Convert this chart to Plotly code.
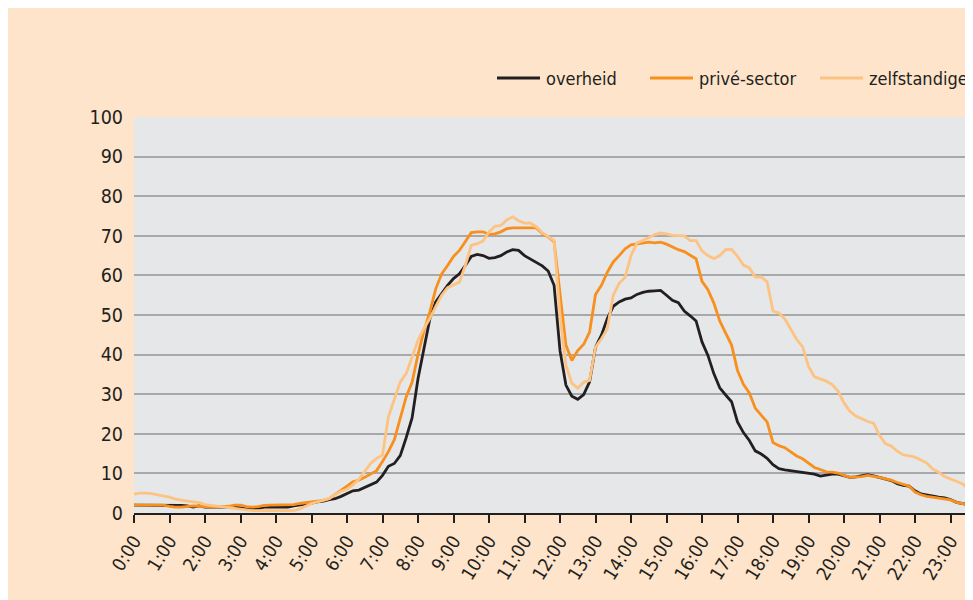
import plotly.graph_objects as go

# time of day, every 10 minutes (in hours)
time_minutes = list(range(0, 24 * 60, 10))
hours = [m / 60 for m in time_minutes]

tick_hours = list(range(0, 24))
tick_labels = [f"{h}:00" for h in tick_hours]

overheid = [
    2.0, 2.0, 2.0, 2.0, 2.0, 2.0,
    2.0, 2.0, 1.9, 1.8, 1.5, 1.8,
    1.5, 1.5, 1.5, 1.5, 1.5, 1.5,
    1.3, 1.2, 1.2, 1.2, 1.5, 1.5,
    1.5, 1.5, 1.5, 1.8, 2.0, 2.2,
    2.5, 2.8, 3.0, 3.4, 3.6, 4.2,
    4.8, 5.6, 5.8, 6.5, 7.0, 7.8,
    9.5, 11.8, 12.5, 14.5, 19.0, 24.0,
    33.9, 41.5, 49.0, 53.3, 55.4, 57.5,
    59.2, 60.4, 62.5, 64.8, 65.3, 65.0,
    64.3, 64.5, 65.0, 65.9, 66.5, 66.3,
    65.0, 64.1, 63.4, 62.4, 61.1, 57.5,
    41.0, 32.3, 29.5, 28.7, 29.9, 33.1,
    41.9, 44.9, 49.1, 52.2, 53.3, 54.0,
    54.3, 55.2, 55.7, 56.0, 56.1, 56.2,
    55.0, 53.7, 53.1, 51.0, 49.8, 48.5,
    43.2, 39.8, 35.2, 31.6, 29.8, 28.1,
    23.0, 20.3, 18.3, 15.7, 14.9, 13.8,
    12.2, 11.2, 10.9, 10.7, 10.5, 10.2,
    10.0, 9.8, 9.3, 9.5, 9.8, 9.8,
    9.4, 9.0, 9.1, 9.4, 9.7, 9.4,
    9.0, 8.6, 8.2, 7.4, 7.0, 6.8,
    5.6, 4.8, 4.5, 4.3, 4.0, 3.8,
    3.4, 2.7, 2.4, 2.1, 2.0, 2.0,
]

prive_sector = [
    2.0, 2.0, 2.0, 2.0, 2.0, 2.0,
    1.7, 1.5, 1.5, 1.6, 1.8, 1.7,
    1.6, 1.5, 1.5, 1.6, 1.7, 2.0,
    2.0, 1.6, 1.5, 1.6, 1.9, 2.0,
    2.0, 2.0, 2.0, 2.1, 2.4, 2.6,
    2.8, 3.0, 3.2, 3.6, 4.6, 5.8,
    6.8, 7.9, 8.3, 9.0, 9.8, 10.7,
    13.0, 15.5, 18.5, 24.0, 29.3, 33.0,
    40.0, 46.0, 50.8, 56.6, 60.4, 62.5,
    64.8, 66.3, 68.4, 70.8, 71.0, 71.0,
    70.3, 70.5, 71.0, 71.8, 72.0, 72.0,
    72.0, 72.0, 72.0, 70.6, 69.7, 68.5,
    55.5, 42.4, 38.5, 41.0, 42.6, 45.7,
    55.2, 57.5, 60.8, 63.4, 65.0, 66.7,
    67.7, 67.9, 68.2, 68.4, 68.2, 68.4,
    67.9, 67.1, 66.5, 66.0, 65.2, 64.2,
    58.5, 56.4, 53.0, 48.5, 45.4, 42.4,
    36.0, 32.5, 30.3, 26.5, 24.7, 23.0,
    17.8, 17.0, 16.5, 15.5, 14.4, 13.7,
    12.5, 11.5, 11.0, 10.4, 10.3, 10.1,
    9.5, 9.0, 9.1, 9.2, 9.5, 9.3,
    9.0, 8.6, 8.3, 7.7, 7.3, 6.8,
    5.3, 4.6, 4.2, 4.0, 3.8, 3.6,
    3.3, 2.7, 2.4, 2.1, 2.0, 2.0,
]

zelfstandige = [
    4.8, 5.0, 5.0, 4.9, 4.6, 4.3,
    4.0, 3.5, 3.2, 3.0, 2.8, 2.6,
    2.1, 1.9, 1.7, 1.5, 1.4, 1.2,
    0.9, 0.7, 0.6, 0.6, 0.6, 0.6,
    0.6, 0.6, 0.6, 0.6, 1.0, 1.8,
    2.4, 2.8, 3.2, 3.7, 4.6, 5.5,
    6.0, 7.1, 8.5, 10.4, 12.5, 13.8,
    14.6, 24.3, 28.5, 33.1, 35.2, 39.4,
    43.6, 46.6, 49.1, 52.2, 55.0, 56.9,
    57.5, 58.3, 62.5, 67.6, 68.0, 68.7,
    71.0, 72.4, 72.6, 74.0, 74.8, 73.8,
    73.2, 73.2, 72.3, 70.8, 69.8, 68.8,
    50.0, 37.3, 32.8, 31.5, 33.0, 33.5,
    41.9, 44.0, 46.5, 55.0, 58.0, 59.5,
    65.0, 68.2, 68.8, 69.6, 70.3, 70.7,
    70.5, 70.1, 70.0, 70.0, 68.8, 68.8,
    66.2, 65.0, 64.2, 65.0, 66.5, 66.6,
    64.8, 62.6, 61.9, 59.6, 59.6, 58.4,
    51.0, 50.5, 49.0, 46.3, 43.8, 42.0,
    37.0, 34.4, 33.9, 33.3, 32.4, 30.8,
    27.8, 25.7, 24.5, 23.7, 23.1, 22.7,
    19.6, 17.5, 16.9, 15.6, 14.7, 14.4,
    14.1, 13.4, 12.6, 11.1, 10.3, 9.2,
    8.6, 8.0, 7.4, 6.2, 5.5, 5.0,
]

series_names = ["overheid", "privé-sector", "zelfstandige"]
series_colors = ["#231f20", "#f7901e", "#fdc383"]

W, H = 973, 600
ML, MR, MT, MB = 126, 0, 109, 95
PW, PH = W - ML - MR, H - MT - MB
PX_PER_HOUR = 35.5

FONT = "DejaVu Sans Condensed, Liberation Sans Narrow, Liberation Sans, sans-serif"
TXT = "#231f20"
PEACH = "#fde4ca"


def px_x(p):
    return (p - ML) / PW


def px_y(p):
    return (H - MB - p) / PH


fig = go.Figure()
for name, ys, col in zip(series_names, [overheid, prive_sector, zelfstandige], series_colors):
    fig.add_trace(go.Scatter(
        x=hours, y=ys, name=name, mode="lines",
        line=dict(color=col, width=2.8), showlegend=False,
    ))

# legend drawn by hand (long line samples, wide spacing as in the reference)
legend_line_x = [489, 642, 812]
legend_y = 70
shapes, annotations = [], []
for name, col, lx in zip(series_names, series_colors, legend_line_x):
    shapes.append(dict(type="line", xref="paper", yref="paper",
                       x0=px_x(lx), x1=px_x(lx + 43), y0=px_y(legend_y), y1=px_y(legend_y),
                       line=dict(color=col, width=3)))
    annotations.append(dict(text=name, xref="paper", yref="paper",
                            x=px_x(lx + 47), y=px_y(legend_y), xanchor="left", yanchor="middle",
                            showarrow=False, font=dict(family=FONT, size=18, color=TXT)))

fig.update_layout(
    width=W, height=H,
    margin=dict(l=ML, r=MR, t=MT, b=MB, pad=0),
    paper_bgcolor=PEACH,
    plot_bgcolor="#e6e7e8",
    font=dict(family=FONT, size=19, color=TXT),
    shapes=shapes,
    annotations=annotations,
    showlegend=False,
    xaxis=dict(
        range=[0, PW / PX_PER_HOUR],
        tickmode="array", tickvals=tick_hours, ticktext=tick_labels,
        tickangle=-58,
        ticks="outside", ticklen=8, tickwidth=1.5, tickcolor=TXT,
        showline=True, linecolor=TXT, linewidth=2,
        showgrid=False, zeroline=False,
        tickfont=dict(family=FONT, size=18.5, color=TXT),
        fixedrange=True,
    ),
    yaxis=dict(
        range=[0, 100],
        tickmode="array", tickvals=list(range(0, 101, 10)),
        showgrid=True, gridcolor="#a7a8aa", gridwidth=2,
        zeroline=False, showline=False, ticks="",
        ticklabelstandoff=10,
        tickfont=dict(family=FONT, size=19.5, color=TXT),
        fixedrange=True,
    ),
)

fig.write_html("out.html")
